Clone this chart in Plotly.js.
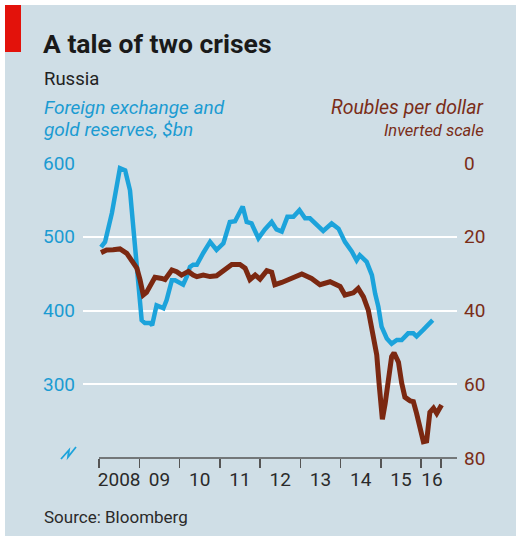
<!DOCTYPE html>
<html>
<head>
<meta charset="utf-8">
<script src="https://cdn.plot.ly/plotly-3.0.1.min.js"></script>
<style>
  html, body { margin:0; padding:0; background:#ffffff; }
  #chart { position:absolute; left:5px; top:5px; width:511px; height:531px; }
</style>
</head>
<body>
<div id="chart"></div>
<script>
// ---- Data (decimal years) ----
const reserveDates = [2008.05,2008.15,2008.32,2008.52,2008.65,2008.77,2008.85,2008.94,2009.02,2009.06,2009.14,2009.27,2009.32,2009.43,2009.52,2009.60,2009.68,2009.81,2009.89,2010.01,2010.09,2010.18,2010.26,2010.34,2010.43,2010.59,2010.76,2010.92,2011.09,2011.25,2011.38,2011.57,2011.67,2011.79,2011.96,2012.12,2012.29,2012.41,2012.54,2012.68,2012.83,2012.98,2013.12,2013.24,2013.41,2013.57,2013.78,2013.95,2014.11,2014.28,2014.40,2014.48,2014.65,2014.78,2014.86,2014.94,2015.02,2015.15,2015.27,2015.40,2015.52,2015.68,2015.81,2015.89,2016.06,2016.22,2016.29];
const reserves = [486,493,532,593,590,563,514,459,414,387,383,383,380,407,405,403,414,441,441,437,435,446,459,462,462,478,493,482,491,520,521,541,520,518,498,510,520,510,507,527,527,536,525,525,516,508,518,511,493,480,468,475,466,448,423,405,378,362,355,360,360,369,369,365,374,383,387];

const roubleDates = [2008.05,2008.19,2008.35,2008.52,2008.69,2008.80,2008.94,2009.02,2009.10,2009.18,2009.31,2009.39,2009.56,2009.64,2009.81,2009.93,2010.05,2010.22,2010.34,2010.43,2010.59,2010.76,2010.92,2011.09,2011.30,2011.50,2011.63,2011.75,2011.88,2012.00,2012.17,2012.29,2012.37,2012.54,2012.75,2013.04,2013.28,2013.49,2013.74,2013.99,2014.11,2014.32,2014.44,2014.57,2014.69,2014.81,2014.90,2014.96,2015.04,2015.11,2015.19,2015.27,2015.33,2015.44,2015.52,2015.60,2015.73,2015.81,2015.89,2015.98,2016.06,2016.14,2016.22,2016.31,2016.39,2016.51];
const roubles = [24.3,23.6,23.5,23.3,24.5,26.5,28.5,31.7,35.8,35.1,32.6,31.0,31.3,31.6,29.0,29.5,30.4,29.4,30.4,30.8,30.4,30.8,30.6,29.3,27.5,27.5,28.5,31.6,30.4,31.5,29.2,29.6,33.0,32.4,31.3,30.1,31.3,33.0,32.2,33.5,35.8,35.2,34.0,36.3,39.9,46.0,52.0,60.0,69.5,65.2,58.8,52.5,51.5,54.0,59.7,63.5,64.5,64.7,67.9,72.0,75.6,75.4,67.6,66.5,67.9,65.6];

const yearTicks = [2008,2009,2010,2011,2012,2013,2014,2015,2016,2016.5];
const yearLabelPos = [2008.5,2009.5,2010.5,2011.5,2012.5,2013.5,2014.5,2015.5,2016.27];
const yearLabels = ['2008','09','10','11','12','13','14','15','16'];
const leftTicks = [300,400,500,600];
const rightTicks = [0,20,40,60,80];

// ---- Styling ----
const BG = '#cfdee6';
const BLUE = '#1ca3db';
const BLUE_TXT = '#1b9bd2';
const BROWN = '#7b2811';
const BROWN_TXT = '#7a2d18';
const DARK = '#222222';
const FONT = 'Roboto, "Open Sans", sans-serif';

const L = 78, R = 59, T = 158, B = 78, W = 511, H = 531;
const PW = W - L - R, PH = H - T - B;
// page coordinates -> paper coordinates
const px = x => (x - 5 - L) / PW;
const py = y => (H - B - (y - 5)) / PH;

const xRange = [2007.6025, 2016.894];

const traces = [
  { x: reserveDates, y: reserves, type: 'scatter', mode: 'lines',
    line: { color: BLUE, width: 4.5 }, xaxis: 'x', yaxis: 'y', hoverinfo: 'skip' },
  { x: roubleDates, y: roubles, type: 'scatter', mode: 'lines',
    line: { color: BROWN, width: 5 }, xaxis: 'x', yaxis: 'y2', hoverinfo: 'skip' },
  { x: [], y: [], type: 'scatter', mode: 'lines', xaxis: 'x2', yaxis: 'y', showlegend: false }
];

function ann(text, x, y, xanchor, size, color, extra) {
  return Object.assign({ text, x: px(x), y: py(y), xref: 'paper', yref: 'paper',
    xanchor, yanchor: 'middle', showarrow: false,
    font: { family: FONT, size, color } }, extra || {});
}

const layout = {
  width: W, height: H,
  margin: { l: L, r: R, t: T, b: B, pad: 0 },
  paper_bgcolor: BG, plot_bgcolor: 'rgba(0,0,0,0)',
  showlegend: false,
  font: { family: FONT, color: DARK },
  xaxis: {
    range: xRange, tickmode: 'array', tickvals: yearTicks, showticklabels: false,
    ticks: 'outside', ticklen: 9, tickwidth: 1.5, tickcolor: '#555555',
    showgrid: false, zeroline: false, showline: false, fixedrange: true
  },
  xaxis2: {
    range: xRange, overlaying: 'x', anchor: 'y', side: 'bottom',
    tickmode: 'array', tickvals: yearLabelPos, ticktext: yearLabels,
    ticks: '', ticklabelstandoff: 8, showgrid: false, zeroline: false, showline: false,
    tickfont: { family: FONT, size: 19, color: '#2a2a2a' }, fixedrange: true
  },
  yaxis: {
    range: [200, 600], tickmode: 'array', tickvals: leftTicks,
    showgrid: true, gridcolor: '#ffffff', gridwidth: 2,
    zeroline: false, showline: false, ticks: '', ticklabelstandoff: 7,
    tickfont: { family: FONT, size: 19, color: BLUE_TXT }, fixedrange: true
  },
  yaxis2: {
    range: [80, 0], overlaying: 'y', side: 'right', anchor: 'x',
    tickmode: 'array', tickvals: rightTicks,
    showgrid: false, zeroline: false, showline: false, ticks: '', ticklabelstandoff: 6,
    tickfont: { family: FONT, size: 19, color: BROWN_TXT }, fixedrange: true
  },
  shapes: [
    // red tab
    { type: 'rect', xref: 'paper', yref: 'paper', x0: px(5), x1: px(21), y0: py(52), y1: py(5),
      fillcolor: '#e3120b', line: { width: 0 }, layer: 'above' },
    // x axis line
    { type: 'line', xref: 'x', yref: 'paper', x0: 2008, x1: xRange[1], y0: 0, y1: 0,
      line: { color: '#555555', width: 1.5 }, layer: 'above' },
    // axis break symbol
    { type: 'path', xref: 'paper', yref: 'paper',
      path: 'M ' + px(61) + ',' + py(459) + ' L ' + px(69) + ',' + py(450) + ' L ' + px(68) + ',' + py(457) + ' L ' + px(76) + ',' + py(447),
      line: { color: BLUE, width: 1.8 }, layer: 'above' }
  ],
  annotations: [
    ann('<b>A tale of two crises</b>', 41, 44, 'left', 26.5, '#1a1a1a'),
    ann('Russia', 42, 79, 'left', 18.5, '#222222'),
    ann('<i>Foreign exchange and</i>', 42, 107, 'left', 19, BLUE_TXT),
    ann('<i>gold reserves, $bn</i>', 42, 129, 'left', 19, BLUE_TXT),
    ann('<i>Roubles per dollar</i>', 485, 107, 'right', 19.5, BROWN_TXT),
    ann('<i>Inverted scale</i>', 486, 131, 'right', 16.5, BROWN_TXT),
    ann('Source: Bloomberg', 42, 516.5, 'left', 17, '#2a2a2a')
  ]
};

Plotly.newPlot('chart', traces, layout, { displayModeBar: false, staticPlot: true });
</script>
</body>
</html>
